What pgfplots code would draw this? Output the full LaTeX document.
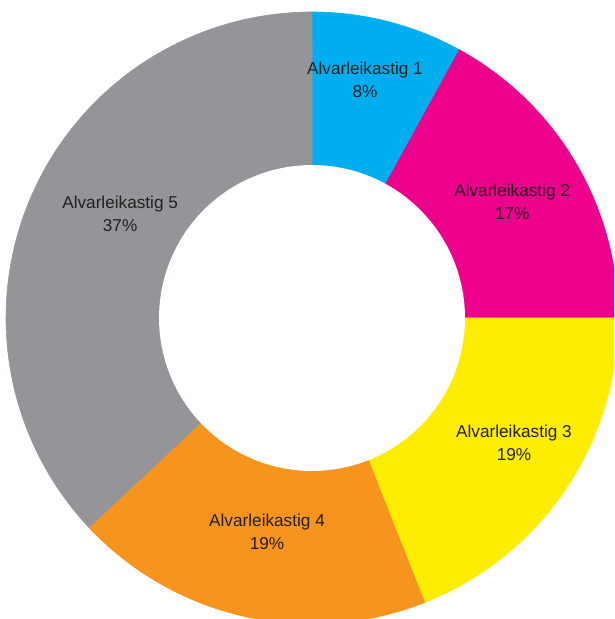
\documentclass[border=0pt]{standalone}
\usepackage{pgfplots}
\pgfplotsset{compat=1.18}
\usepackage{fontspec}
\setmainfont{Liberation Sans}
\definecolor{c1}{RGB}{0,174,239}
\definecolor{c2}{RGB}{236,0,140}
\definecolor{c3}{RGB}{255,237,0}
\definecolor{c4}{RGB}{247,148,29}
\definecolor{c5}{RGB}{147,149,152}
\definecolor{txt}{RGB}{35,31,32}
\tikzset{lab/.style={font=\fontsize{8.6}{11.5}\selectfont, text=txt, align=center}}
% shares (percent)
\def\pA{8}\def\pB{17}\def\pC{19}\def\pD{19}\def\pE{37}
\pgfmathsetmacro{\sA}{90}
\pgfmathsetmacro{\sB}{\sA-3.6*\pA}
\pgfmathsetmacro{\sC}{\sB-3.6*\pB}
\pgfmathsetmacro{\sD}{\sC-3.6*\pC}
\pgfmathsetmacro{\sE}{\sD-3.6*\pD}
\pgfmathsetmacro{\sF}{\sE-3.6*\pE}
\begin{document}
\begin{tikzpicture}
\begin{axis}[
  scale only axis, width=307pt, height=309.5pt,
  xmin=-1.0196, xmax=0.9869, ymin=-0.9837, ymax=1.0392,
  xtick=\empty, ytick=\empty, axis line style={draw=none},
  clip=true,
]
\addplot[fill=c1, draw=c1, line width=0.3pt, domain=\sA:\sB, samples=60, variable=\t] ({cos(\t)},{sin(\t)}) -- (axis cs:0,0) -- cycle;
\addplot[fill=c2, draw=c2, line width=0.3pt, domain=\sB:\sC, samples=60, variable=\t] ({cos(\t)},{sin(\t)}) -- (axis cs:0,0) -- cycle;
\addplot[fill=c3, draw=c3, line width=0.3pt, domain=\sC:\sD, samples=60, variable=\t] ({cos(\t)},{sin(\t)}) -- (axis cs:0,0) -- cycle;
\addplot[fill=c4, draw=c4, line width=0.3pt, domain=\sD:\sE, samples=60, variable=\t] ({cos(\t)},{sin(\t)}) -- (axis cs:0,0) -- cycle;
\addplot[fill=c5, draw=c5, line width=0.3pt, domain=\sE:\sF, samples=120, variable=\t] ({cos(\t)},{sin(\t)}) -- (axis cs:0,0) -- cycle;
\addplot[fill=white, draw=none, domain=0:360, samples=120, variable=\t] ({0.5*cos(\t)},{0.5*sin(\t)}) -- cycle;
\node[lab] at (axis cs:0.173,0.778) {Alvarleikastig 1\\\pA\%};
\node[lab] at (axis cs:0.654,0.379) {Alvarleikastig 2\\\pB\%};
\node[lab] at (axis cs:0.660,-0.408) {Alvarleikastig 3\\\pC\%};
\node[lab] at (axis cs:-0.147,-0.699) {Alvarleikastig 4\\\pD\%};
\node[lab] at (axis cs:-0.627,0.340) {Alvarleikastig 5\\\pE\%};
\end{axis}
\end{tikzpicture}
\end{document}
